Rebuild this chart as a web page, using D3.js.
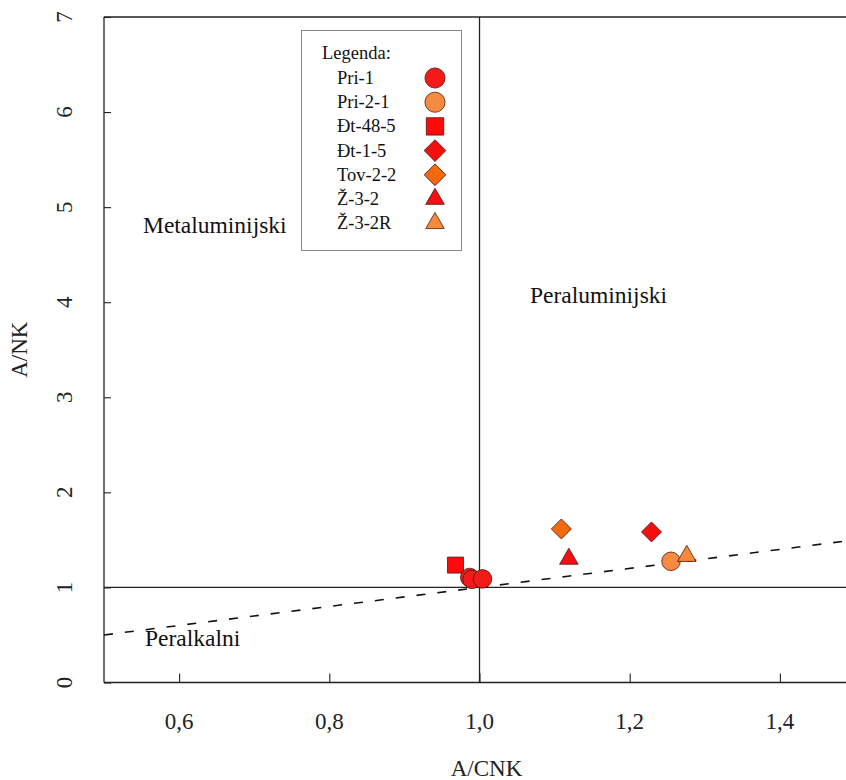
<!DOCTYPE html>
<html>
<head>
<meta charset="utf-8">
<script src="https://cdn.jsdelivr.net/npm/d3@7"></script>
<style>
  body { margin: 0; background: #fff; }
  svg { display: block; font-family: "Liberation Serif", "Times New Roman", serif; }
</style>
</head>
<body>
<svg id="chart" width="846" height="780"></svg>
<script>
// Data
const samples = ["Pri-1", "Pri-2-1", "Đt-48-5", "Đt-1-5", "Tov-2-2", "Ž-3-2", "Ž-3-2R"];
const shapes  = ["circle", "circle", "square", "diamond", "diamond", "triangle", "triangle"];
const colors  = ["#f51a1a", "#f68a40", "#ff0a0a", "#f2100e", "#f26a0c", "#f51010", "#f68a3a"];

// points: [sample, A/CNK, A/NK]
const points = [
  ["Đt-48-5", 0.968, 1.235],
  ["Pri-1",   0.987, 1.105],
  ["Pri-1",   0.990, 1.085],
  ["Pri-1",   1.004, 1.090],
  ["Tov-2-2", 1.109, 1.615],
  ["Ž-3-2",   1.119, 1.30],
  ["Đt-1-5",  1.229, 1.584],
  ["Pri-2-1", 1.255, 1.275],
  ["Ž-3-2R",  1.276, 1.33]
];

const xTicks = [0.6, 0.8, 1.0, 1.2, 1.4];
const yTicks = [0, 1, 2, 3, 4, 5, 6, 7];
const dividerLine = [[0.5, 0.5], [1.5, 1.5]]; // A/NK = A/CNK

const svg = d3.select("#chart");
const x = d3.scaleLinear().domain([0.5, 1.5]).range([104, 855]);
const y = d3.scaleLinear().domain([0, 7]).range([682.5, 17]);

const fmt = d => d3.format(".1f")(d).replace(".", ",");

// frame
const frame = svg.append("g").attr("stroke", "#222").attr("stroke-width", 1.3).attr("fill", "none");
frame.append("line").attr("x1", x(0.5)).attr("x2", x(1.5)).attr("y1", y(0)).attr("y2", y(0));
frame.append("line").attr("x1", x(0.5)).attr("x2", x(1.5)).attr("y1", y(7)).attr("y2", y(7));
frame.append("line").attr("x1", x(0.5)).attr("x2", x(0.5)).attr("y1", y(0)).attr("y2", y(7));
frame.append("line").attr("x1", x(1.5)).attr("x2", x(1.5)).attr("y1", y(0)).attr("y2", y(7));

// reference lines
frame.append("line").attr("x1", x(1.0)).attr("x2", x(1.0)).attr("y1", y(0)).attr("y2", y(7));
frame.append("line").attr("x1", x(0.5)).attr("x2", x(1.5)).attr("y1", y(1)).attr("y2", y(1));

svg.append("path")
  .datum(dividerLine)
  .attr("d", d3.line().x(d => x(d[0])).y(d => y(d[1])))
  .attr("fill", "none")
  .attr("stroke", "#111")
  .attr("stroke-width", 1.6)
  .attr("stroke-dasharray", "9,12");

// axes (ticks point inward)
svg.append("g")
  .attr("transform", `translate(0,${y(0)})`)
  .call(d3.axisTop(x).tickValues(xTicks).tickSize(9).tickFormat(""))
  .call(g => g.select(".domain").remove())
  .call(g => g.selectAll(".tick line").attr("stroke", "#222").attr("stroke-width", 1.1));

svg.append("g")
  .attr("transform", `translate(${x(0.5)},0)`)
  .call(d3.axisRight(y).tickValues(yTicks).tickSize(7).tickFormat(""))
  .call(g => g.select(".domain").remove())
  .call(g => g.selectAll(".tick line").attr("stroke", "#222").attr("stroke-width", 1.1));

// tick labels
svg.append("g").selectAll("text")
  .data(xTicks)
  .join("text")
  .attr("x", d => x(d))
  .attr("y", 729)
  .attr("text-anchor", "middle")
  .attr("font-size", "23px")
  .attr("fill", "#222")
  .text(fmt);

svg.append("g").selectAll("text")
  .data(yTicks)
  .join("text")
  .attr("transform", d => `translate(72,${y(d)}) rotate(-90)`)
  .attr("text-anchor", "middle")
  .attr("font-size", "23px")
  .attr("fill", "#222")
  .text(d => d);

// axis titles
svg.append("text")
  .attr("x", x(1.0) + 7).attr("y", 776)
  .attr("text-anchor", "middle")
  .attr("font-size", "23px")
  .attr("fill", "#222")
  .text("A/CNK");

svg.append("text")
  .attr("transform", `translate(27,${y(3.5)}) rotate(-90)`)
  .attr("text-anchor", "middle")
  .attr("font-size", "23px")
  .attr("fill", "#222")
  .text("A/NK");

// region labels
svg.append("text").attr("x", 143).attr("y", 233).attr("font-size", "23.5px").attr("fill", "#111").text("Metaluminijski");
svg.append("text").attr("x", 530).attr("y", 303).attr("font-size", "23.5px").attr("fill", "#111").text("Peraluminijski");
svg.append("text").attr("x", 145).attr("y", 646).attr("font-size", "23.5px").attr("fill", "#111").text("Peralkalni");

// symbols (diamond = square turned 45 degrees)
const symbolType = { circle: d3.symbolCircle, square: d3.symbolSquare, diamond: d3.symbolSquare, triangle: d3.symbolTriangle };
const symbolSize = { circle: 270, square: 256, diamond: 200, triangle: 150 };
const styleOf = name => {
  const i = samples.indexOf(name);
  return { shape: shapes[i], color: colors[i] };
};
function drawSymbol(g, shape, color, scale) {
  g.append("path")
    .attr("d", d3.symbol().type(symbolType[shape]).size(symbolSize[shape] * scale)())
    .attr("transform", shape === "diamond" ? "rotate(45)" : null)
    .attr("fill", color)
    .attr("stroke", "#4a1010")
    .attr("stroke-opacity", 0.85)
    .attr("stroke-width", 0.9);
}

points.forEach(p => {
  const s = styleOf(p[0]);
  const g = svg.append("g").attr("transform", `translate(${x(p[1])},${y(p[2])})`);
  drawSymbol(g, s.shape, s.color, 1);
});

// legend
const legend = svg.append("g");
legend.append("rect")
  .attr("x", 301.5).attr("y", 30.5).attr("width", 160).attr("height", 220)
  .attr("fill", "#fff").attr("stroke", "#888").attr("stroke-width", 1);
legend.append("text").attr("x", 322).attr("y", 59).attr("font-size", "18.5px").attr("fill", "#111").text("Legenda:");
samples.forEach((name, i) => {
  const cy = 78 + i * 24.2;
  legend.append("text").attr("x", 337).attr("y", cy + 6).attr("font-size", "18.5px").attr("fill", "#111").text(name);
  const g = legend.append("g").attr("transform", `translate(435,${cy})`);
  drawSymbol(g, shapes[i], colors[i], shapes[i] === "triangle" ? 1.0 : 1.18);
});
</script>
</body>
</html>
